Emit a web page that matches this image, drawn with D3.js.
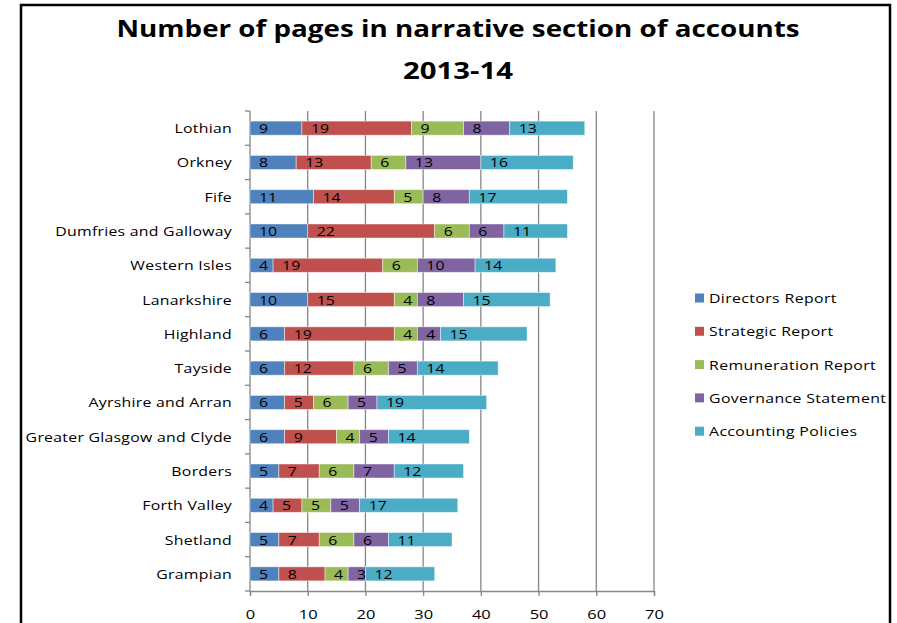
<!DOCTYPE html>
<html>
<head>
<meta charset="utf-8">
<script src="https://cdn.jsdelivr.net/npm/d3@7"></script>
<style>
  html, body { margin: 0; padding: 0; background: #fff; }
  svg { display: block; }
  text { font-family: "Open Sans", "DejaVu Sans", sans-serif; fill: #000; }
</style>
</head>
<body>
<svg id="chart" width="897" height="623"></svg>
<script>
// ---- data ----
const categories = ["Lothian", "Orkney", "Fife", "Dumfries and Galloway", "Western  Isles",
  "Lanarkshire", "Highland", "Tayside", "Ayrshire and Arran", "Greater Glasgow and Clyde",
  "Borders", "Forth Valley", "Shetland", "Grampian"];
const seriesNames = ["Directors Report", "Strategic  Report", "Remuneration Report",
  "Governance Statement", "Accounting Policies"];
const directorsReport     = [9, 8, 11, 10, 4, 10, 6, 6, 6, 6, 5, 4, 5, 5];
const strategicReport     = [19, 13, 14, 22, 19, 15, 19, 12, 5, 9, 7, 5, 7, 8];
const remunerationReport  = [9, 6, 5, 6, 6, 4, 4, 6, 6, 4, 6, 5, 6, 4];
const governanceStatement = [8, 13, 8, 6, 10, 8, 4, 5, 5, 5, 7, 5, 6, 3];
const accountingPolicies  = [13, 16, 17, 11, 14, 15, 15, 14, 19, 14, 12, 17, 11, 12];
const xTicks = [0, 10, 20, 30, 40, 50, 60, 70];
const seriesColors = ["#4F81BD", "#C0504D", "#9BBB59", "#8064A2", "#4BACC6"];
const titleLines = ["Number of pages in narrative section of accounts", "2013-14"];

// ---- build table ----
const seriesValues = [directorsReport, strategicReport, remunerationReport, governanceStatement, accountingPolicies];
const table = categories.map((c, i) => {
  const row = { category: c };
  seriesNames.forEach((s, j) => row[s] = seriesValues[j][i]);
  return row;
});
const stacked = d3.stack().keys(seriesNames)(table);

const svg = d3.select("#chart");
const SX = 1.22; // horizontal stretch of the source picture's text

// ---- frame ----
svg.append("rect").attr("x", 21).attr("y", 5).attr("width", 869).attr("height", 650)
  .attr("fill", "none").attr("stroke", "#000").attr("stroke-width", 2.5);

// ---- title ----
svg.append("text").attr("x", 458).attr("y", 37).attr("text-anchor", "middle")
  .attr("font-size", 23).attr("font-weight", "bold")
  .attr("textLength", 683).attr("lengthAdjust", "spacingAndGlyphs")
  .text(titleLines[0]);
svg.append("text").attr("x", 458).attr("y", 79).attr("text-anchor", "middle")
  .attr("font-size", 23).attr("font-weight", "bold")
  .attr("textLength", 110).attr("lengthAdjust", "spacingAndGlyphs")
  .text(titleLines[1]);

// ---- scales ----
const x = d3.scaleLinear().domain([0, 70]).range([250, 654]);
const y = d3.scaleBand().domain(categories).range([111, 591]).paddingInner(0.59).paddingOuter(0.295);
const step = y.step();

const gridColor = "#868686";

// gridlines
svg.append("g").selectAll("line").data(xTicks.filter(t => t > 0)).join("line")
  .attr("x1", d => x(d)).attr("x2", d => x(d))
  .attr("y1", 111).attr("y2", 591)
  .attr("stroke", gridColor).attr("stroke-width", 1.3);

// x axis (bottom)
const xAxis = svg.append("g").attr("transform", "translate(0,591)")
  .call(d3.axisBottom(x).tickValues(xTicks).tickSize(5).tickFormat(d3.format("d")));
xAxis.select(".domain").attr("stroke", gridColor).attr("stroke-width", 1.3);
xAxis.selectAll(".tick line").attr("stroke", gridColor).attr("stroke-width", 1.3);
xAxis.selectAll(".tick text").remove();
xAxis.selectAll(".tick").append("text")
  .attr("transform", "translate(0,28) scale(" + SX + ",1)")
  .attr("text-anchor", "middle").attr("font-size", 13.5).attr("fill", "#000")
  .text(d => d);

// y axis line with ticks between categories
const yAxisG = svg.append("g");
yAxisG.append("line").attr("x1", 250).attr("x2", 250).attr("y1", 111).attr("y2", 591)
  .attr("stroke", gridColor).attr("stroke-width", 1.3);
const boundaries = d3.range(categories.length + 1).map(k => 111 + k * step);
yAxisG.selectAll("line.tk").data(boundaries).join("line").attr("class", "tk")
  .attr("x1", 245).attr("x2", 250).attr("y1", d => d).attr("y2", d => d)
  .attr("stroke", gridColor).attr("stroke-width", 1.3);
yAxisG.selectAll("text").data(categories).join("text")
  .attr("transform", d => "translate(232," + (y(d) + y.bandwidth() / 2 + 5) + ") scale(" + SX + ",1)")
  .attr("text-anchor", "end").attr("font-size", 13).attr("letter-spacing", 0.2)
  .text(d => d);

// ---- bars ----
const layers = svg.append("g").selectAll("g").data(stacked).join("g")
  .attr("fill", (d, i) => seriesColors[i]);
layers.selectAll("rect").data(d => d).join("rect")
  .attr("x", d => x(d[0]))
  .attr("width", d => x(d[1]) - x(d[0]))
  .attr("y", d => y(d.data.category))
  .attr("height", y.bandwidth())
  .attr("stroke", "#ffffff").attr("stroke-opacity", 0.55).attr("stroke-width", 0.8);

// data labels (inside base)
layers.selectAll("text").data(d => d).join("text")
  .attr("transform", d => "translate(" + (x(d[0]) + 9) + "," + (y(d.data.category) + y.bandwidth() / 2 + 5) + ") scale(" + SX + ",1)")
  .attr("font-size", 13).attr("fill", "#000")
  .text(d => d[1] - d[0]);

// ---- legend ----
const legend = svg.append("g").selectAll("g").data(seriesNames).join("g")
  .attr("transform", (d, i) => "translate(695," + (298 + i * 33.3) + ")");
legend.append("rect").attr("x", 0).attr("y", -4.5).attr("width", 9).attr("height", 9)
  .attr("fill", (d, i) => seriesColors[i]);
legend.append("text")
  .attr("transform", "translate(14,5) scale(" + SX + ",1)")
  .attr("font-size", 13).attr("letter-spacing", 0.3)
  .text(d => d);
</script>
</body>
</html>
